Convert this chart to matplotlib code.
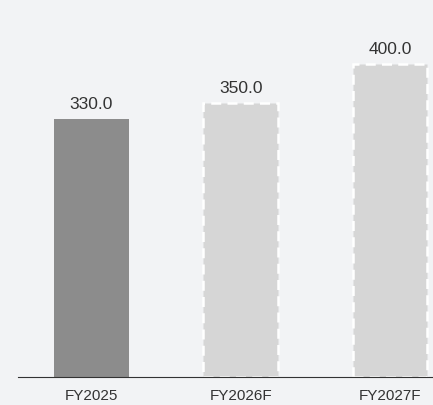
import matplotlib
matplotlib.use("Agg")
import matplotlib.pyplot as plt
from matplotlib import font_manager

# data
years = ["FY2025", "FY2026F", "FY2027F"]
values = [330.0, 350.0, 400.0]
forecast = [False, True, True]

names = {f.name for f in font_manager.fontManager.ttflist}
fam = "Liberation Sans Narrow" if "Liberation Sans Narrow" in names else "Liberation Sans"
plt.rcParams["font.family"] = [fam, "DejaVu Sans"]

bg = "#f2f3f5"
fig = plt.figure(figsize=(4.33, 4.05), dpi=100, facecolor=bg)
ax = fig.add_axes([18 / 433, 28 / 405, 1 - 18 / 433, 352 / 405])
ax.set_facecolor(bg)

for i, (v, f) in enumerate(zip(values, forecast)):
    if f:
        # forecast bars: light fill with white dashed outline
        ax.bar(i, v, width=0.5, color="#d6d6d6", edgecolor="white",
               linewidth=1.8, linestyle=(0, (4, 2.5)))
    else:
        ax.bar(i, v, width=0.5, color="#8c8c8c", edgecolor="none")
    ax.text(i, v + 9, f"{v:.1f}", ha="center", va="bottom",
            fontsize=12.5, color="#333333")

ax.set_xlim(-0.492, 2.287)
ax.set_ylim(0, 450)
ax.set_xticks(range(len(years)))
ax.set_xticklabels(years, fontsize=11, color="#333333")
ax.tick_params(axis="x", length=0, pad=9)
ax.set_yticks([])
for s in ["top", "right", "left"]:
    ax.spines[s].set_visible(False)
ax.spines["bottom"].set_color("#333333")
ax.spines["bottom"].set_linewidth(0.8)

fig.savefig("out.png", dpi=100, facecolor=bg)
